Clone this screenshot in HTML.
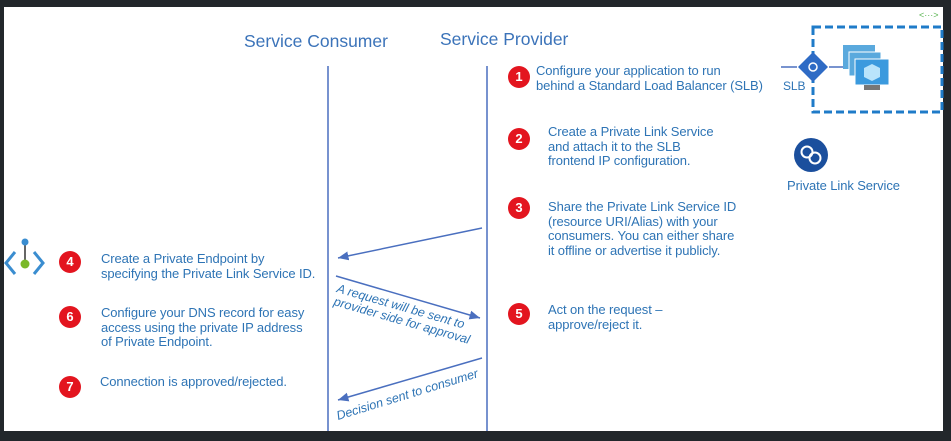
<!DOCTYPE html>
<html><head><meta charset="utf-8"><style>
body{margin:0;width:951px;height:441px;background:#22272b;overflow:hidden;font-family:"Liberation Sans",sans-serif}
#w{position:absolute;left:4px;top:7px;width:939px;height:424px;background:#fff}
.t{position:absolute;color:#2e74b5;font-size:13px;line-height:14.5px;white-space:nowrap;letter-spacing:-0.1px}
.h{position:absolute;color:#3b73b9;font-size:17.5px}
.n{position:absolute;width:22px;height:22px;border-radius:50%;background:#e3151f;color:#fff;font-size:13px;font-weight:bold;text-align:center;line-height:22px}
</style></head><body>
<div id="w"></div>
<svg width="951" height="441" style="position:absolute;left:0;top:0">
<defs><marker id="a" markerWidth="8" markerHeight="8" refX="7" refY="4" orient="auto"><path d="M0,1 L7,4 L0,7z" fill="#4a6fbf"/></marker></defs>
<g stroke="#4a6fbf" stroke-width="1.5">
<line x1="328" y1="66" x2="328" y2="431"/>
<line x1="487" y1="66" x2="487" y2="431"/>
<line x1="482" y1="228" x2="338" y2="258" marker-end="url(#a)"/>
<line x1="336" y1="276" x2="480" y2="318" marker-end="url(#a)"/>
<line x1="482" y1="358" x2="338" y2="400" marker-end="url(#a)"/>
<line x1="781" y1="67" x2="797" y2="67"/>
<line x1="829" y1="67" x2="843" y2="67"/>
</g>
<rect x="813" y="27" width="129" height="85" fill="none" stroke="#1f7bc8" stroke-width="3" stroke-dasharray="8,4"/>
<text x="919" y="18" font-size="9" fill="#5ab552" font-family="Liberation Sans">&lt;···&gt;</text>
<path d="M813,52 L828,67 L813,82 L798,67z" fill="#2e6bc5"/>
<circle cx="813" cy="67" r="4" fill="none" stroke="#fff" stroke-width="1.5"/>
<rect x="843" y="45" width="32" height="24" fill="#5aa9dd"/>
<rect x="849" y="52" width="32" height="24" fill="#5aa9dd" stroke="#fff"/>
<rect x="855" y="59" width="34" height="26" fill="#3b9ade" stroke="#fff"/>
<rect x="864" y="85" width="16" height="5" fill="#777"/>
<path d="M872,64 l8,4 v9 l-8,4 l-8,-4 v-9z" fill="#b9e4fb"/>
<circle cx="811" cy="155" r="17" fill="#1b4f9d"/>
<circle cx="807" cy="152" r="5.5" fill="none" stroke="#fff" stroke-width="2"/>
<circle cx="815" cy="158" r="5.5" fill="none" stroke="#fff" stroke-width="2"/>
<path d="M15,252 l-9,11 l9,11 M34,252 l9,11 l-9,11" fill="none" stroke="#3a8dd0" stroke-width="3"/>
<line x1="25" y1="242" x2="25" y2="263" stroke="#666" stroke-width="2"/>
<circle cx="25" cy="242" r="3.5" fill="#3a8dd0"/>
<circle cx="25" cy="264" r="4.5" fill="#7ab829"/>
<g fill="#2e74b5" font-family="Liberation Sans" font-size="12.5" font-style="italic">
<text transform="translate(336,292) rotate(16)">A request will be sent to</text>
<text transform="translate(333,305) rotate(16)">provider side for approval</text>
<text transform="translate(338,420) rotate(-17)">Decision sent to consumer</text>
</g>
</svg>
<div class="h" style="left:244px;top:31px">Service Consumer</div>
<div class="h" style="left:440px;top:29px">Service Provider</div>
<div class="t" style="left:783px;top:79px;font-size:12px">SLB</div>
<div class="t" style="left:787px;top:179px">Private Link Service</div>
<div class="n" style="left:508px;top:66px">1</div>
<div class="t" style="left:536px;top:64px">Configure your application to run<br>behind a Standard Load Balancer (SLB)</div>
<div class="n" style="left:508px;top:128px">2</div>
<div class="t" style="left:548px;top:125px">Create a Private Link Service<br>and attach it to the SLB<br>frontend IP configuration.</div>
<div class="n" style="left:508px;top:197px">3</div>
<div class="t" style="left:548px;top:200px">Share the Private Link Service ID<br>(resource URI/Alias) with your<br>consumers. You can either share<br>it offline or advertise it publicly.</div>
<div class="n" style="left:508px;top:303px">5</div>
<div class="t" style="left:548px;top:303px">Act on the request –<br>approve/reject it.</div>
<div class="n" style="left:59px;top:251px">4</div>
<div class="t" style="left:101px;top:252px">Create a Private Endpoint by<br>specifying the Private Link Service ID.</div>
<div class="n" style="left:59px;top:306px">6</div>
<div class="t" style="left:101px;top:306px">Configure your DNS record for easy<br>access using the private IP address<br>of Private Endpoint.</div>
<div class="n" style="left:59px;top:376px">7</div>
<div class="t" style="left:100px;top:375px">Connection is approved/rejected.</div>
</body></html>
